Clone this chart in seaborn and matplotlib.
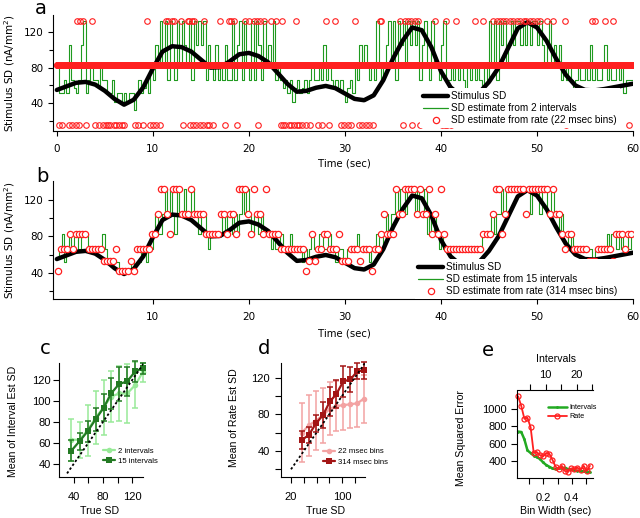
import numpy as np
import pandas as pd
import matplotlib
matplotlib.use("Agg")
import matplotlib.pyplot as plt
import seaborn as sns
from matplotlib.lines import Line2D
from matplotlib.ticker import FixedLocator, NullFormatter

# ---------------------------------------------------------------- data
stim_t = list(range(0, 61))
stim_sd = [55, 59, 63, 64, 61, 54, 45, 38.5, 44, 58,
           79, 98, 104, 103, 98, 89, 80, 80.5, 87, 95,
           96.5, 93, 86, 74, 62, 53, 54, 57.5, 59.5, 57,
           51, 45, 43.5, 49, 66, 90, 110, 125, 122, 103,
           76, 58, 49, 46, 52, 64, 80, 102, 124, 131,
           125, 110, 90, 72, 60, 55, 54.5, 56, 58, 60, 62]

step_dt = 0.25  # sampling of the interval-based estimates (sec)
# panel a: SD estimate from 2 intervals
est2_sd = [83, 52, 52, 66,  52, 105, 66, 57,  52, 66, 105, 132,  52, 66, 83, 66,
           66, 57, 83, 66,  66, 52, 52, 66,  42, 52, 52, 42,  52, 42, 52, 52,
           33, 52, 66, 52,  57, 66, 52, 83,  66, 105, 83, 132,  83, 132, 66, 132,
           105, 66, 132, 83,  132, 105, 83, 132,  66, 132, 105, 132,  105, 132, 66, 105,
           83, 66, 105, 66,  83, 66, 105, 66,  66, 132, 66, 105,  132, 66, 132, 83,
           66, 132, 66, 132,  105, 66, 132, 83,  105, 83, 132, 66,  83, 66, 57, 66,
           52, 66, 42, 57,  66, 52, 57, 66,  52, 66, 83, 66,  66, 83, 66, 105,
           66, 83, 66, 57,  66, 57, 66, 52,  42, 57, 66, 52,  83, 66, 105, 83,
           105, 83, 66, 83,  66, 132, 83, 66,  83, 105, 132, 83,  132, 66, 132, 105,
           132, 83, 132, 105,  132, 105, 132, 66,  105, 132, 83, 66,  132, 83, 83, 66,
           105, 132, 66, 66,  83, 66, 83, 66,  83, 66, 57, 83,  66, 83, 66, 83,
           66, 57, 83, 66,  132, 83, 132, 66,  132, 105, 132, 83,  105, 132, 105, 132,
           132, 105, 132, 105,  132, 105, 132, 132,  105, 132, 105, 83,  105, 132, 83, 105,
           83, 105, 66, 83,  66, 83, 66, 57,  66, 83, 66, 66,  83, 66, 105, 66,
           83, 66, 66, 83,  105, 66, 83, 66,  66, 83, 66, 83,  52, 66, 66, 66]
# panel b: SD estimate from 15 intervals
est15_sd = [57, 66, 83, 52,  66, 83, 66, 83,  83, 66, 83, 83,  83, 66, 66, 66,
            66, 66, 66, 83,  66, 52, 52, 52,  52, 52, 42, 42,  42, 42, 42, 52,
            42, 52, 52, 66,  66, 52, 66, 66,  83, 105, 83, 83,  105, 132, 105, 132,
            105, 83, 132, 105,  105, 132, 105, 105,  132, 105, 105, 83,  105, 105, 83, 66,
            83, 83, 83, 83,  83, 105, 83, 105,  105, 83, 105, 83,  105, 132, 105, 132,
            105, 83, 105, 105,  83, 105, 83, 83,  83, 66, 83, 66,  66, 83, 66, 66,
            66, 83, 66, 66,  66, 66, 52, 66,  52, 66, 83, 66,  66, 83, 83, 66,
            66, 83, 66, 66,  52, 66, 66, 52,  52, 66, 66, 66,  66, 83, 66, 66,
            66, 66, 52, 66,  66, 83, 66, 66,  83, 105, 83, 105,  105, 132, 105, 132,
            132, 105, 132, 132,  132, 105, 132, 105,  105, 132, 83, 105,  83, 105, 83, 66,
            83, 66, 66, 66,  66, 66, 66, 66,  66, 66, 66, 66,  66, 66, 66, 66,
            66, 83, 83, 83,  83, 105, 83, 105,  105, 132, 105, 132,  132, 132, 132, 132,
            132, 132, 132, 132,  132, 105, 132, 132,  132, 105, 132, 132,  105, 105, 132, 105,
            105, 83, 105, 83,  83, 66, 83, 66,  66, 66, 66, 66,  66, 66, 66, 52,
            66, 66, 66, 66,  66, 83, 66, 83,  83, 66, 83, 66,  83, 83, 66, 83]

# panel a: rate estimate, 22 msec bins (three possible levels)
rate22_bin = 0.022
rate22_levels = [16, 83, 132]
rate22_high_t = [2.1, 2.4, 2.75, 3.0, 3.7, 9.4, 10.0, 11.4, 11.6, 12.0, 12.2, 12.9, 13.1,
                 13.6, 13.8, 14.1, 14.3, 15.3, 17.0, 17.9, 18.1, 18.4, 19.6, 20.0, 20.5,
                 20.9, 21.1, 21.6, 22.3, 22.8, 23.4, 24.7, 24.9, 27.2, 27.6, 28.0, 29.0,
                 31.0, 33.6, 33.8, 35.7, 36.25, 36.6, 36.9, 37.3, 37.6, 37.8, 39.4, 40.5,
                 41.6, 43.5, 44.4, 45.4, 45.8, 46.1, 46.5, 46.8, 47.2, 47.5, 47.9, 48.2,
                 48.6, 48.9, 49.3, 49.6, 50.0, 50.3, 51.0, 51.7, 52.9, 55.7, 56.0, 57.1, 57.9]
rate22_low_t = [0.24, 0.5, 1.3, 1.6, 2.0, 2.3, 3.0, 4.0, 4.4, 4.8, 5.1, 5.3, 5.5, 5.9, 6.2,
                6.5, 6.8, 7.0, 8.15, 8.5, 9.0, 9.7, 10.0, 10.3, 10.8, 13.1, 13.9, 14.2, 14.5,
                14.9, 15.2, 15.6, 15.9, 16.3, 17.5, 18.8, 21.0, 23.3, 23.6, 23.8, 24.2, 24.4,
                24.7, 25.0, 25.2, 25.5, 25.9, 26.4, 27.2, 27.6, 28.4, 29.6, 29.9, 30.3, 30.6,
                31.5, 31.8, 32.2, 32.5, 32.9, 36.0, 37.0, 37.8, 40.1, 40.4, 40.6, 41.0, 53.0, 59.6]

# panel b: rate estimate, 314 msec bins
rate314_bin = 0.314
rate314_sd = [42, 66, 66, 66, 83, 66, 83, 83, 83, 83,
              66, 66, 66, 66, 66, 53, 53, 53, 53, 66,
              42, 42, 42, 42, 53, 42, 66, 66, 66, 66,
              66, 83, 83, 105, 132, 132, 105, 83, 132, 132,
              132, 105, 105, 105, 132, 105, 105, 105, 105, 83,
              83, 83, 83, 83, 105, 105, 83, 105, 105, 83,
              132, 132, 132, 105, 83, 132, 105, 105, 83, 132,
              83, 83, 83, 83, 66, 66, 66, 66, 66, 66,
              66, 66, 42, 53, 83, 53, 66, 66, 83, 83,
              66, 66, 66, 83, 53, 53, 53, 66, 66, 66,
              53, 66, 66, 66, 42, 66, 66, 83, 105, 83,
              83, 83, 132, 105, 105, 132, 132, 132, 132, 105,
              132, 105, 105, 132, 83, 105, 83, 132, 83, 66,
              66, 66, 66, 66, 66, 66, 66, 66, 66, 66,
              66, 83, 83, 83, 105, 132, 132, 83, 105, 132,
              132, 132, 132, 132, 132, 105, 132, 132, 132, 132,
              132, 132, 132, 105, 132, 105, 105, 83, 66, 83,
              83, 66, 66, 66, 66, 66, 53, 53, 53, 66,
              66, 66, 66, 66, 53, 83, 83, 83, 66, 83, 83]

# panels c, d
true_sd = [37, 48, 59, 70, 81, 91, 102, 113, 124, 134]
int2_mean = [63, 63, 72, 84, 94, 104, 107, 107, 115, 127]
int2_err = [20, 17, 24, 25, 26, 24, 26, 28, 22, 9]
int15_mean = [52.7, 61.6, 71, 82.5, 93.5, 107, 116, 118.5, 128, 131]
int15_err = [10, 8, 10, 11, 13, 15, 16, 14, 10, 5]
r22_mean = [60, 68, 73, 79, 86, 89, 90, 91, 92, 97]
r22_err = [32, 33, 32, 30, 29, 27, 27, 26, 26, 26]
r314_mean = [52, 57.5, 70, 79, 94, 102, 116, 118, 127, 128]
r314_err = [10, 9, 9, 14, 16, 15, 17, 14, 9, 9]

# panel e
bin_width_ms = [22, 44, 66, 88, 110, 132, 154, 176, 198, 220, 242, 264,
                286, 308, 330, 352, 374, 396, 418, 440, 462, 484, 506, 528]
mse_rate = [1150, 1040, 890, 900, 790, 490, 500, 465, 450, 490, 480, 410,
            330, 300, 340, 280, 270, 310, 300, 320, 290, 340, 280, 340]
mse_int = [740, 735, 650, 520, 490, 460, 440, 420, 380, 350, 330, 310,
           300, 310, 310, 320, 300, 300, 290, 280, 280, 275, 270, 270]
sec_per_interval = 0.0217

# ---------------------------------------------------------------- style
sns.set_theme(style="ticks", rc={"axes.edgecolor": "black", "xtick.color": "black",
                                 "ytick.color": "black", "text.color": "black",
                                 "axes.labelcolor": "black", "axes.linewidth": 0.8})
plt.rcParams["font.family"] = ["DejaVu Sans"]
SANS2 = "Liberation Sans"

W, H = 640, 518
fig = plt.figure(figsize=(W / 100, H / 100), dpi=100)


def add_ax(l, t, r, b):
    return fig.add_axes([l / W, 1 - b / H, (r - l) / W, (b - t) / H])


def ftext(x, y, s, **kw):
    fig.text(x / W, 1 - y / H, s, ha="center", va="center", **kw)


GREEN = "#1f9a1f"
RED = "#ff2020"
LGREEN = "#98ea98"
DGREEN = "#237a23"
PINK = "#f3a3a3"
DRED = "#a31515"

# ---------------------------------------------------------------- panel a
ax = add_ax(53, 15, 633, 131)
t_grid = np.arange(0, 60, step_dt)
sns.lineplot(x=np.append(t_grid, 60), y=est2_sd + [est2_sd[-1]], ax=ax, color=GREEN,
             lw=0.8, drawstyle="steps-post", estimator=None, sort=False)
sns.lineplot(x=stim_t, y=stim_sd, ax=ax, color="black", lw=3.2, estimator=None)
r_t = np.arange(rate22_bin / 2, 60, rate22_bin)
r_v = np.full(len(r_t), rate22_levels[1], dtype=float)
for tt in rate22_high_t:
    r_v[np.argmin(np.abs(r_t - tt))] = rate22_levels[2]
for tt in rate22_low_t:
    r_v[np.argmin(np.abs(r_t - tt))] = rate22_levels[0]
sns.lineplot(x=r_t, y=r_v, ax=ax, linestyle="none", marker="o", markersize=4.0,
             markerfacecolor="none", markeredgecolor=RED, markeredgewidth=0.8,
             estimator=None, sort=False)
ax.set_xlim(-0.4, 60)
ax.set_ylim(9, 139)
ax.set_xticks([0, 10, 20, 30, 40, 50, 60])
ax.set_yticks([40, 80, 120])
ax.yaxis.set_minor_locator(FixedLocator([20, 60, 100]))

# ---------------------------------------------------------------- panel b
bx = add_ax(53, 181, 633, 299)
sns.lineplot(x=np.append(t_grid, 60), y=est15_sd + [est15_sd[-1]], ax=bx, color=GREEN,
             lw=0.8, drawstyle="steps-post", estimator=None, sort=False)
sns.lineplot(x=stim_t, y=stim_sd, ax=bx, color="black", lw=3.2, estimator=None)
rb_t = np.arange(rate314_bin / 2, 60, rate314_bin)[:len(rate314_sd)]
sns.lineplot(x=rb_t, y=rate314_sd, ax=bx, linestyle="none", marker="o", markersize=4.5,
             markerfacecolor="white", markeredgecolor=RED, markeredgewidth=0.9,
             estimator=None, sort=False)
bx.set_xlim(-0.4, 60)
bx.set_ylim(11, 141)
bx.set_xticks([10, 20, 30, 40, 50, 60])
bx.set_yticks([40, 80, 120])
bx.yaxis.set_minor_locator(FixedLocator([20, 60, 100]))

for a_ in (ax, bx):
    sns.despine(ax=a_)
    a_.set_xlabel("")
    a_.set_ylabel("")
    a_.tick_params(which="both", direction="out", width=0.8, labelsize=7.5)
    a_.tick_params(which="major", length=3.5)
    a_.tick_params(which="minor", length=3)
    a_.tick_params(axis="x", pad=5.5)
    a_.tick_params(axis="y", pad=3.5)

leg_kw = dict(loc="upper left", bbox_transform=fig.transFigure, prop={"family": SANS2, "size": 7.2},
              frameon=True, facecolor="white", edgecolor="none", framealpha=1, fancybox=False,
              borderpad=0.3, handlelength=2.5, handletextpad=0.3, labelspacing=0.22,
              borderaxespad=0)
h_stim = Line2D([], [], color="black", lw=3.2)
h_grn = Line2D([], [], color=GREEN, lw=0.9)
h_red = Line2D([], [], ls="none", marker="o", markersize=4.5, mfc="none", mec=RED, mew=0.9)
ax.legend([h_stim, h_grn, h_red],
          ["Stimulus SD", "SD estimate from 2 intervals", "SD estimate from rate (22 msec bins)"],
          bbox_to_anchor=(420 / W, 1 - 88 / H), **leg_kw)
bx.legend([h_stim, h_grn, h_red],
          ["Stimulus SD", "SD estimate from 15 intervals", "SD estimate from rate (314 msec bins)"],
          bbox_to_anchor=(415 / W, 1 - 259 / H), **leg_kw)

ftext(10, 73, "Stimulus SD (nA/mm$^2$)", rotation=90, fontsize=7.5)
ftext(10, 240, "Stimulus SD (nA/mm$^2$)", rotation=90, fontsize=7.5)
ftext(344, 164, "Time (sec)", fontsize=7.3)
ftext(344, 334, "Time (sec)", fontsize=7.3)

# ---------------------------------------------------------------- panels c, d
small_leg = dict(loc="upper left", bbox_transform=fig.transFigure, frameon=False,
                 prop={"family": SANS2, "size": 5.6}, borderpad=0, borderaxespad=0,
                 handlelength=1.6, handletextpad=0.3, labelspacing=0.35)


def comp_panel(axx, m1, e1, c1, mk1, m2, e2, c2, mk2, labels, leg_xy, line_from):
    axx.errorbar(true_sd, m1, yerr=e1, fmt="none", ecolor=c1, elinewidth=1.1,
                 capsize=2.2, capthick=1.1, clip_on=False, zorder=2)
    sns.lineplot(x=true_sd, y=m1, ax=axx, color=c1, lw=1.6, marker=mk1, markersize=4,
                 markeredgewidth=0, estimator=None, clip_on=False, zorder=3)
    axx.errorbar(true_sd, m2, yerr=e2, fmt="none", ecolor=c2, elinewidth=1.1,
                 capsize=2.2, capthick=1.1, clip_on=False, zorder=4)
    sns.lineplot(x=true_sd, y=m2, ax=axx, color=c2, lw=1.6, marker=mk2, markersize=4,
                 markeredgewidth=0, estimator=None, clip_on=False, zorder=5)
    axx.plot([line_from, 137], [line_from, 137], color="black", lw=1.3,
             linestyle=(0, (1.3, 1.3)), zorder=6)
    h1 = Line2D([], [], color=c1, lw=1.6, marker=mk1, markersize=4, mew=0)
    h2 = Line2D([], [], color=c2, lw=1.6, marker=mk2, markersize=4, mew=0)
    axx.legend([h1, h2], labels, bbox_to_anchor=(leg_xy[0] / W, 1 - leg_xy[1] / H), **small_leg)
    sns.despine(ax=axx)
    axx.set_xlabel("")
    axx.set_ylabel("")
    axx.tick_params(which="both", direction="out", width=0.8, length=4, labelsize=8,
                    labelfontfamily=SANS2)
    axx.tick_params(axis="x", pad=7)


cx = add_ax(59, 363, 143.3, 477)
comp_panel(cx, int2_mean, int2_err, LGREEN, "o", int15_mean, int15_err, DGREEN, "s",
           ["2 intervals", "15 intervals"], (103, 447.5), 31)
cx.set_xlim(20, 135)
cx.set_ylim(27.6, 136)
cx.set_xticks([40, 80, 120])
cx.xaxis.set_minor_locator(FixedLocator([60, 100]))
cx.set_yticks([40, 60, 80, 100, 120])
cx.tick_params(axis="y", pad=2)

dx = add_ax(280.5, 363, 365, 477)
comp_panel(dx, r22_mean, r22_err, PINK, "o", r314_mean, r314_err, DRED, "s",
           ["22 msec bins", "314 msec bins"], (323, 448), 20)
dx.set_xlim(3.5, 136)
dx.set_ylim(11.6, 136)
dx.set_xticks([20, 100])
dx.xaxis.set_minor_locator(FixedLocator([40, 60, 80, 120]))
dx.set_yticks([40, 80, 120])
dx.yaxis.set_minor_locator(FixedLocator([20, 60, 100]))
dx.tick_params(axis="y", pad=3.5)

ftext(100, 511, "True SD", fontsize=7.6, family=SANS2)
ftext(325.5, 511, "True SD", fontsize=7.6, family=SANS2)
ftext(13, 421.5, "Mean of Interval Est SD", rotation=90, fontsize=7.6, family=SANS2)
ftext(234, 417.5, "Mean of Rate Est SD", rotation=90, fontsize=7.6, family=SANS2)

# ---------------------------------------------------------------- panel e
ex = add_ax(516.7, 390.5, 593, 478)
bw = np.array(bin_width_ms) / 1000.0
sns.lineplot(x=bw, y=mse_int, ax=ex, color="#22aa22", lw=1.8, marker="o", markersize=2,
             markeredgewidth=0, estimator=None, clip_on=False)
sns.lineplot(x=bw, y=mse_rate, ax=ex, color=RED, lw=1.3, marker="o", markersize=3.6,
             markerfacecolor="none", markeredgecolor=RED, markeredgewidth=0.9,
             estimator=None, clip_on=False)
ex.set_xlim(0.012, 0.55)
ex.set_ylim(198, 1219)
ex.set_xticks([0.2, 0.4])
ex.xaxis.set_minor_locator(FixedLocator([0.1, 0.3, 0.5]))
ex.set_yticks([400, 600, 800, 1000])
sns.despine(ax=ex)
ex.set_xlabel("")
ex.set_ylabel("")
ex.tick_params(which="both", direction="out", width=0.8, length=4, labelsize=8,
               labelfontfamily=SANS2)
ex.tick_params(axis="x", pad=7)
ex.tick_params(axis="y", pad=3)
sec = ex.secondary_xaxis("top", functions=(lambda t: t / sec_per_interval,
                                           lambda n: n * sec_per_interval))
sec.set_xticks([10, 20])
sec.xaxis.set_minor_locator(FixedLocator([5, 15, 25]))
sec.tick_params(which="both", direction="out", width=0.8, length=4, labelsize=8,
                labelfontfamily=SANS2, pad=3.5)
sec.spines["top"].set_linewidth(0.8)
ex.legend([Line2D([], [], color="#22aa22", lw=1.8, marker="o", markersize=2, mew=0),
           Line2D([], [], color=RED, lw=1.3, marker="o", markersize=3.6, mfc="none", mec=RED, mew=0.9)],
          ["Intervals", "Rate"], bbox_to_anchor=(548 / W, 1 - 404 / H),
          **dict(small_leg, prop={"family": SANS2, "size": 5.2}, handlelength=2.6, labelspacing=0.3))

ftext(556, 359.5, "Intervals", fontsize=7.6, family=SANS2)
ftext(556, 511.5, "Bin Width (sec)", fontsize=7.6, family=SANS2)
ftext(461, 438, "Mean Squared Error", rotation=90, fontsize=7.6, family=SANS2)

# ---------------------------------------------------------------- panel letters
for (lx, ly, s) in [(41, 8, "a"), (42, 177, "b"), (45, 349, "c"), (264, 348, "d"), (488, 351, "e")]:
    ftext(lx, ly, s, fontsize=14)

fig.savefig("out.png", dpi=100)
